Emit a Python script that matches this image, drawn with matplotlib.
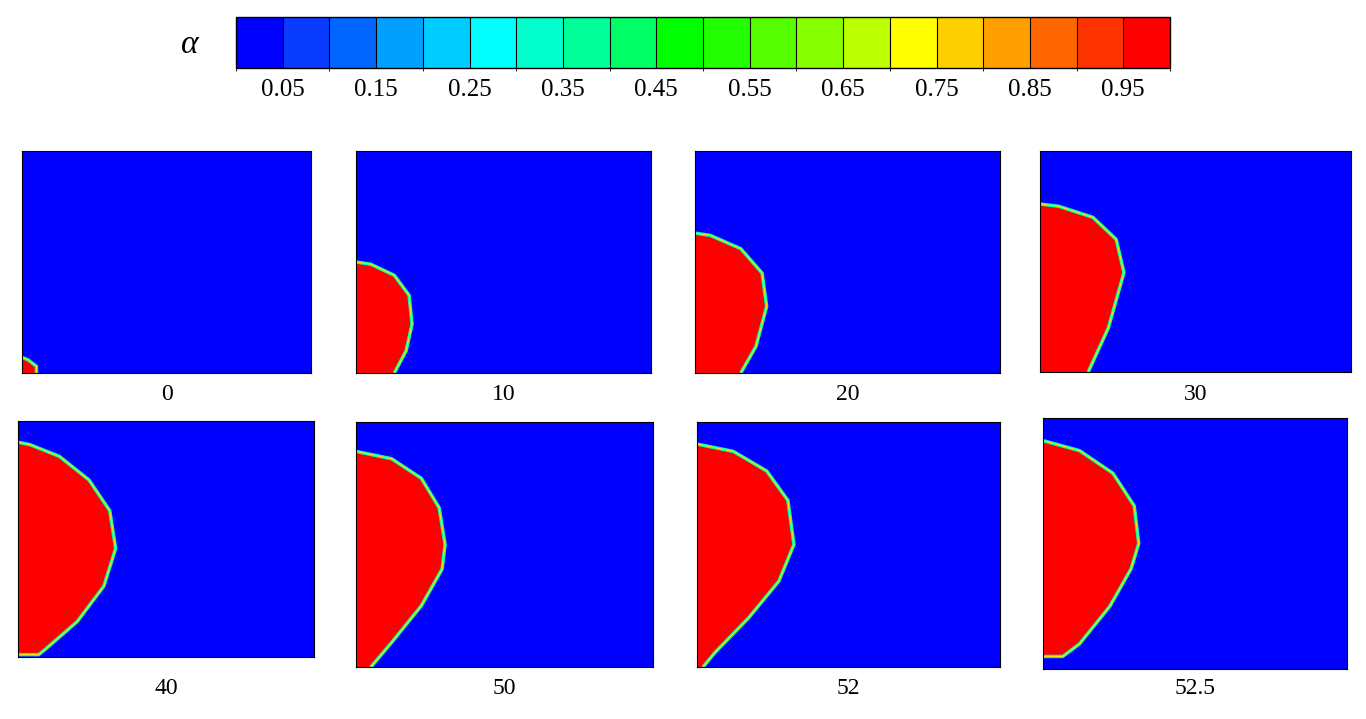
import matplotlib
matplotlib.use("Agg")
import matplotlib.pyplot as plt
from matplotlib.colors import ListedColormap, BoundaryNorm
from matplotlib.colorbar import ColorbarBase

W, H = 1366, 719

# colour legend
levels = [0.025, 0.05, 0.10, 0.15, 0.20, 0.25, 0.30, 0.35, 0.40, 0.45, 0.50,
          0.55, 0.60, 0.65, 0.70, 0.75, 0.80, 0.85, 0.90, 0.95, 0.975]
level_colors = ["#0000FF", "#0A3CFF", "#0066FF", "#00A0FF", "#00CCFF", "#00FFFF",
                "#00FFCC", "#00FF99", "#00FF66", "#00FF00", "#22FF00", "#55FF00",
                "#88FF00", "#BBFF00", "#FFFF00", "#FFD000", "#FFA000", "#FF6600",
                "#FF3300", "#FF0000"]
tick_values = [0.05, 0.15, 0.25, 0.35, 0.45, 0.55, 0.65, 0.75, 0.85, 0.95]

# snapshot labels and red-phase outlines (height frac, distance-from-wall frac)
times = ["0", "10", "20", "30", "40", "50", "52", "52.5"]
prof_0 = [(0.0, 0.05), (0.03, 0.05), (0.06, 0.02), (0.07, 0.0)]
prof_10 = [(0.0, 0.13), (0.1, 0.17), (0.22, 0.19), (0.35, 0.18), (0.44, 0.13), (0.49, 0.05), (0.5, 0.0)]
prof_20 = [(0.0, 0.15), (0.12, 0.20), (0.3, 0.235), (0.45, 0.22), (0.56, 0.15), (0.62, 0.05), (0.63, 0.0)]
prof_30 = [(0.0, 0.155), (0.2, 0.22), (0.45, 0.27), (0.6, 0.245), (0.7, 0.17), (0.75, 0.06), (0.76, 0.0)]
prof_40 = [(0.01, 0.0), (0.01, 0.07), (0.03, 0.09), (0.15, 0.20), (0.3, 0.29), (0.46, 0.33),
           (0.62, 0.31), (0.75, 0.24), (0.85, 0.14), (0.9, 0.04), (0.91, 0.0)]
prof_50 = [(0.0, 0.05), (0.1, 0.12), (0.25, 0.22), (0.4, 0.29), (0.5, 0.30),
           (0.65, 0.28), (0.77, 0.22), (0.85, 0.12), (0.88, 0.0)]
prof_52 = [(0.0, 0.02), (0.06, 0.06), (0.2, 0.17), (0.35, 0.27), (0.5, 0.32),
           (0.68, 0.30), (0.8, 0.23), (0.88, 0.12), (0.91, 0.0)]
prof_525 = [(0.05, 0.0), (0.05, 0.065), (0.1, 0.12), (0.25, 0.22), (0.4, 0.29), (0.5, 0.315),
            (0.65, 0.30), (0.78, 0.23), (0.87, 0.12), (0.91, 0.0)]
profiles = [prof_0, prof_10, prof_20, prof_30, prof_40, prof_50, prof_52, prof_525]

# panel boxes in pixels: left, top, right, bottom
boxes = [(22, 151, 311, 373), (356, 151, 651, 373), (695, 151, 1000, 373), (1040, 151, 1351, 372),
         (18, 421, 314, 657), (356, 422, 653, 667), (697, 422, 1000, 667), (1043, 418, 1347, 669)]
label_y = [395, 395, 395, 395, 688, 688, 688, 688]

serif = ["Liberation Serif", "DejaVu Serif"]

fig = plt.figure(figsize=(W / 100, H / 100), dpi=100)


def px_axes(l, t, r, b):
    return fig.add_axes([l / W, 1 - b / H, (r - l) / W, (b - t) / H])


cax = px_axes(236, 17, 1170, 68)
cmap = ListedColormap(level_colors)
norm = BoundaryNorm(levels, cmap.N)
cb = ColorbarBase(cax, cmap=cmap, norm=norm, orientation="horizontal",
                  boundaries=levels, ticks=tick_values, drawedges=True)
cb.outline.set_linewidth(1)
cb.dividers.set_color("black")
cb.dividers.set_linewidth(0.8)
cax.tick_params(length=0, pad=8)
cax.set_xticklabels([f"{v:.2f}" for v in tick_values], family=serif, fontsize=18)
fig.text(190 / W, 1 - 45 / H, "α", family=serif, style="italic", fontsize=24,
         ha="center", va="center")

for box, prof, t, ly in zip(boxes, profiles, times, label_y):
    ax = px_axes(*box)
    ax.set_facecolor("#0000FF")
    ax.set_xlim(0, 1)
    ax.set_ylim(0, 1)
    ax.set_xticks([])
    ax.set_yticks([])
    xs = [p[1] for p in prof]
    ys = [p[0] for p in prof]
    ax.fill([0] + xs + [0], [ys[0]] + ys + [ys[-1]], color="#FF0000", lw=0)
    ax.plot(xs, ys, color="#00FFB0", lw=2.5, solid_capstyle="butt")
    ax.plot(xs, ys, color="#FFE000", lw=0.8)
    for s in ax.spines.values():
        s.set_linewidth(0.8)
    fig.text((box[0] + box[2]) / 2 / W, 1 - ly / H, t, family=serif, fontsize=17,
             ha="center", va="center")

fig.savefig("out.png", dpi=100)
